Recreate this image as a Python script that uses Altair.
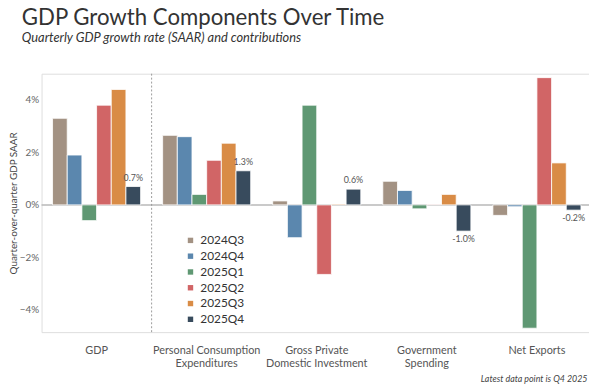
import altair as alt
import pandas as pd

components = [
    "GDP",
    "Personal Consumption Expenditures",
    "Gross Private Domestic Investment",
    "Government Spending",
    "Net Exports",
]
quarters = ["2024Q3", "2024Q4", "2025Q1", "2025Q2", "2025Q3", "2025Q4"]
colors = ["#a39283", "#5b87ae", "#5f9873", "#d16566", "#d98c46", "#384b5d"]

gdp = [3.3, 1.9, -0.6, 3.8, 4.4, 0.7]
pce = [2.65, 2.6, 0.4, 1.7, 2.35, 1.3]
gpdi = [0.15, -1.25, 3.8, -2.65, 0.03, 0.6]
gov = [0.9, 0.55, -0.15, 0.02, 0.4, -1.0]
netx = [-0.4, -0.07, -4.7, 4.85, 1.6, -0.2]

series = [gdp, pce, gpdi, gov, netx]
rows = []
for comp, vals in zip(components, series):
    for q, v in zip(quarters, vals):
        rows.append({"component": comp, "quarter": q, "value": v,
                     "label": f"{v:.1f}%"})
df = pd.DataFrame(rows)

FONT = "Lato"

label_expr = (
    "datum.label == 'Personal Consumption Expenditures' ? ['Personal Consumption', 'Expenditures'] : "
    "datum.label == 'Gross Private Domestic Investment' ? ['Gross Private', 'Domestic Investment'] : "
    "datum.label == 'Government Spending' ? ['Government', 'Spending'] : datum.label"
)

x_scale = alt.Scale(paddingInner=0, paddingOuter=0, range=[0, 558])
x_axis = alt.Axis(
    labelExpr=label_expr, labelAngle=0, labelAlign="center",
    labelBaseline="top", domain=False, ticks=False,
    labelPadding=13, labelFontSize=11, labelColor="#555", labelLineHeight=12.5,
    labelFont=FONT,
    title="Latest data point is Q4 2025", titleFontStyle="italic",
    titleFontSize=9, titleFontWeight="normal", titleColor="#444",
    titleAlign="right", titleX=553, titleY=50, titleBaseline="alphabetic",
    titleFont=FONT,
)
y_scale = alt.Scale(domain=[-4.85, 5.0], nice=False, zero=False)
y_axis = alt.Axis(
    values=[-4, -2, 0, 2, 4], labelExpr="format(datum.value, 'd') + '%'",
    domain=False, ticks=False, grid=False, labelPadding=3,
    labelFontSize=10, labelColor="#666", labelFont=FONT,
    title="Quarter-over-quarter GDP SAAR", titleFontSize=10,
    titleFontWeight="normal", titleColor="#444", titleFont=FONT,
    titleX=-28, titleBaseline="middle",
)

x_enc = alt.X("component:N", sort=components, scale=x_scale, axis=x_axis)
y_enc = alt.Y("value:Q", scale=y_scale, axis=y_axis)
xo_enc = alt.XOffset("quarter:N", sort=quarters,
                     scale=alt.Scale(paddingInner=0, paddingOuter=0.75))

zero = alt.Chart(pd.DataFrame({"value": [0.0]})).mark_rule(
    color="#b8b8b8", strokeWidth=1.5
).encode(y=alt.Y("value:Q"))

divider = alt.Chart(pd.DataFrame({"component": ["GDP"]})).mark_rule(
    color="#9a9a9a", strokeDash=[2, 2], strokeWidth=1
).encode(x=alt.X("component:N", sort=components, bandPosition=1))

bars = alt.Chart(df).mark_bar(stroke="white", strokeWidth=0.8).encode(
    x=x_enc,
    xOffset=xo_enc,
    y=y_enc,
    color=alt.Color(
        "quarter:N",
        scale=alt.Scale(domain=quarters, range=colors),
        legend=alt.Legend(
            title=None, orient="none", legendX=145, legendY=163,
            symbolType="square", symbolSize=30, symbolStrokeWidth=0,
            labelFontSize=12, labelColor="#333", labelOffset=4,
            rowPadding=4, padding=0, labelFont=FONT,
        ),
    ),
)

last = alt.Chart(df).transform_filter("datum.quarter == '2025Q4'")
pos_labels = last.transform_filter("datum.value >= 0").mark_text(
    baseline="bottom", dy=-4, fontSize=9, color="#555", font=FONT
).encode(x=alt.X("component:N", sort=components), xOffset=xo_enc,
         y=alt.Y("value:Q"), text="label:N")
neg_labels = last.transform_filter("datum.value < 0").mark_text(
    baseline="top", dy=4, fontSize=9, color="#555", font=FONT
).encode(x=alt.X("component:N", sort=components), xOffset=xo_enc,
         y=alt.Y("value:Q"), text="label:N")

chart = alt.layer(zero, divider, bars, pos_labels, neg_labels).properties(
    width=555,
    height=262,
    autosize=alt.AutoSizeParams(type="none"),
    padding={"left": 34, "top": 64, "right": 0, "bottom": 52},
    title=alt.Title(
        text="GDP Growth Components Over Time",
        subtitle="Quarterly GDP growth rate (SAAR) and contributions",
        anchor="start", frame="group", dx=-20, offset=29,
        font=FONT, fontSize=22.5, fontWeight="normal", color="#333",
        subtitleFont=FONT, subtitleFontStyle="italic", subtitleFontSize=13,
        subtitleColor="#333", subtitlePadding=2,
    ),
).configure_view(stroke=None).configure(background="white")

chart.save("out.html", embed_options={"renderer": "svg", "actions": False})
